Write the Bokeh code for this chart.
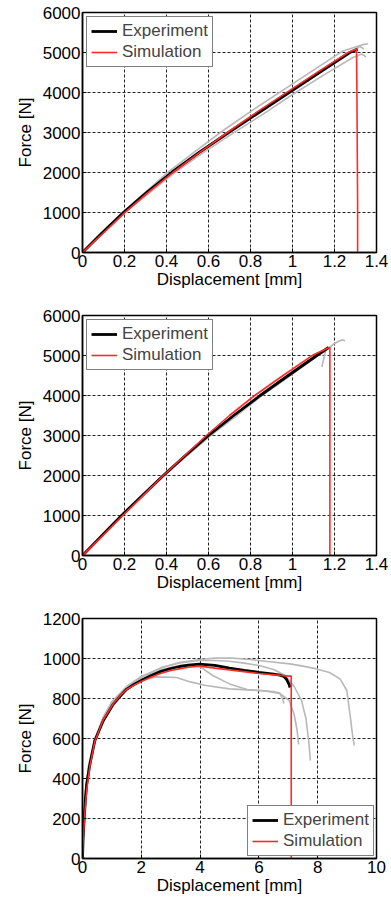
from bokeh.plotting import figure
from bokeh.layouts import column
from bokeh.models import Range1d, FixedTicker, Legend, LegendItem
from bokeh.embed import file_html
from bokeh.resources import INLINE

# ---- Panel 1 data ----
p1_exp_x = [0, 0.095, 0.195, 0.305, 0.424, 0.555, 0.696, 0.84, 0.984, 1.128, 1.273, 1.31]
p1_exp_y = [0, 500, 1000, 1500, 2000, 2500, 3000, 3500, 4000, 4500, 5000, 5080]
p1_sim_x = [0, 0.1, 0.2, 0.31, 0.43, 0.56, 0.69, 0.83, 0.975, 1.12, 1.265, 1.305,
            1.307, 1.31, 1.31]
p1_sim_y = [0, 490, 990, 1490, 2000, 2510, 3000, 3510, 4010, 4510, 5000, 5090,
            3800, 1200, 0]
p1_gray = [
    ([0, 0.19, 0.41, 0.54, 0.67, 0.81, 0.955, 1.1, 1.24, 1.33, 1.36],
     [0, 1000, 2020, 2540, 3050, 3560, 4060, 4560, 5040, 5190, 5220]),
    ([0, 0.2, 0.435, 0.57, 0.71, 0.86, 1.0, 1.15, 1.29, 1.33, 1.35],
     [0, 990, 1980, 2480, 2960, 3460, 3950, 4440, 4880, 4960, 4890]),
    ([0, 0.195, 0.424, 0.555, 0.69, 0.835, 0.98, 1.125, 1.27, 1.32, 1.34],
     [0, 1000, 2000, 2510, 3010, 3520, 4030, 4530, 5000, 5150, 5090]),
]

# ---- Panel 2 data ----
p2_exp_x = [0, 0.093, 0.186, 0.285, 0.385, 0.49, 0.6, 0.72, 0.846, 0.98, 1.116, 1.172]
p2_exp_y = [0, 500, 1000, 1500, 2000, 2500, 3000, 3500, 4000, 4500, 5000, 5200]
p2_sim_x = [0, 0.095, 0.19, 0.287, 0.385, 0.487, 0.59, 0.70, 0.82, 0.955, 1.1, 1.175,
            1.178, 1.178]
p2_sim_y = [0, 490, 990, 1490, 2000, 2500, 3000, 3500, 4000, 4500, 5020, 5200,
            5200, 0]
p2_gray = [
    ([0, 0.19, 0.39, 0.605, 0.73, 0.85, 0.985, 1.12, 1.17, 1.2, 1.225, 1.24, 1.25],
     [0, 1000, 2000, 2980, 3480, 3980, 4480, 4990, 5180, 5300, 5370, 5390, 5370]),
    ([0, 0.185, 0.385, 0.6, 0.72, 0.845, 0.975, 1.11, 1.16, 1.15, 1.14],
     [0, 1010, 2010, 3010, 3510, 4010, 4510, 5010, 5180, 4950, 4720]),
]

# ---- Panel 3 data ----
p3_exp_x = [0, 0.02, 0.05, 0.1, 0.14, 0.25, 0.42, 0.71, 1.05, 1.3, 1.5, 1.75, 2.0, 2.3,
            2.65, 3.0, 3.3, 3.6, 3.97, 4.5, 5.0, 5.5, 6.0, 6.5, 6.71, 6.85, 6.94, 7.03, 7.06]
p3_exp_y = [0, 100, 180, 300, 370, 470, 590, 690, 772, 815, 846, 870, 890, 912,
            935, 950, 960, 967, 972, 966, 952, 941, 931, 922, 917, 910, 896, 870, 855]
p3_sim_x = [0, 0.02, 0.05, 0.1, 0.15, 0.25, 0.42, 0.71, 1.05, 1.3, 1.5, 1.75, 2.0, 2.3,
            2.65, 3.0, 3.29, 3.6, 3.97, 4.5, 5.0, 6.0, 7.03, 7.1, 7.1]
p3_sim_y = [0, 80, 160, 270, 350, 460, 585, 695, 775, 818, 845, 867, 885, 905,
            925, 940, 948, 956, 962, 952, 943, 925, 912, 912, 0]
p3_gray = [
    ([0, 0.02, 0.05, 0.1, 0.2, 0.4, 0.7, 1.0, 1.5, 2.0, 2.7, 3.3, 4.0, 4.5, 5.1, 5.7, 6.3,
      7.05, 7.5, 7.96, 8.4, 8.76, 8.99, 9.1, 9.2, 9.25],
     [0, 110, 200, 320, 450, 580, 700, 775, 855, 905, 955, 980, 995, 1002, 1002, 995, 985,
      973, 962, 948, 930, 898, 840, 720, 600, 565]),
    ([0, 0.02, 0.05, 0.1, 0.2, 0.4, 0.7, 1.0, 1.5, 2.0, 2.7, 3.3, 3.97, 4.5, 5.0, 5.5, 6.0,
      6.5, 6.9, 7.2, 7.45, 7.6, 7.7, 7.75],
     [0, 120, 210, 330, 460, 590, 705, 785, 860, 910, 955, 978, 990, 990, 986, 977, 965,
      945, 915, 860, 790, 700, 580, 490]),
    ([0, 0.02, 0.05, 0.1, 0.2, 0.4, 0.7, 1.0, 1.5, 2.0, 2.7, 3.3, 3.97, 4.43, 5.0, 5.6,
      6.2, 6.71, 7.03, 7.2, 7.3, 7.35],
     [0, 90, 170, 290, 430, 570, 690, 770, 845, 895, 945, 965, 962, 915, 873, 845,
      838, 825, 790, 720, 640, 570]),
    ([0, 0.02, 0.05, 0.1, 0.2, 0.4, 0.7, 1.0, 1.5, 2.0, 2.5, 3.2, 3.67, 4.2, 5.0, 6.0,
      6.5, 6.71, 6.8, 6.85],
     [0, 100, 190, 310, 440, 580, 690, 770, 845, 890, 908, 905, 883, 865, 848, 840,
      835, 827, 800, 775]),
]

FONT = "Liberation Sans"
GRAY = "#b8b8b8"
RED = "#ff2a2a"


def make_panel(xmax, xticks, ymax, yticks, gray, ex, ey, sx, sy, legend_loc, top, bottom,
               height, leg_margin):
    p = figure(width=391, height=height, output_backend="svg", toolbar_location=None,
               x_range=Range1d(0, xmax), y_range=Range1d(0, ymax),
               min_border_left=82, min_border_right=15,
               min_border_top=top, min_border_bottom=bottom)
    p.background_fill_color = "white"
    p.border_fill_color = "white"
    p.outline_line_color = "black"
    p.outline_line_width = 1.5
    for ax in (p.xaxis[0], p.yaxis[0]):
        ax.major_label_text_font = FONT
        ax.major_label_text_font_size = "17px"
        ax.major_label_text_color = "black"
        ax.axis_label_text_font = FONT
        ax.axis_label_text_font_size = "17px"
        ax.axis_label_text_font_style = "normal"
        ax.axis_label_text_color = "black"
        ax.major_tick_in = 4
        ax.major_tick_out = 0
        ax.minor_tick_line_color = None
        ax.axis_line_color = "black"
        ax.axis_line_width = 1.5
        ax.major_label_standoff = 2
    p.xaxis.axis_label = "Displacement [mm]"
    p.yaxis.axis_label = "Force [N]"
    p.xaxis.axis_label_standoff = 0
    p.yaxis.axis_label_standoff = 5
    p.xaxis.ticker = FixedTicker(ticks=xticks)
    p.yaxis.ticker = FixedTicker(ticks=yticks)
    p.xgrid.ticker = FixedTicker(ticks=xticks)
    p.ygrid.ticker = FixedTicker(ticks=yticks)
    for g in (p.xgrid[0], p.ygrid[0]):
        g.grid_line_color = "#222222"
        g.grid_line_dash = "3 2"
        g.grid_line_width = 1
    for gx, gy in gray:
        p.line(gx, gy, line_color=GRAY, line_width=1.6)
    r1 = p.line(ex, ey, line_color="black", line_width=2.8)
    r2 = p.line(sx, sy, line_color=RED, line_width=1.6)
    leg = Legend(items=[LegendItem(label="Experiment", renderers=[r1]),
                        LegendItem(label="Simulation", renderers=[r2])],
                 location=legend_loc)
    leg.label_text_font = FONT
    leg.label_text_font_size = "17px"
    leg.border_line_color = "black"
    leg.border_line_width = 1.5
    leg.margin = leg_margin
    leg.padding = 4
    leg.spacing = 1
    leg.glyph_width = 26
    leg.label_standoff = 5
    leg.label_height = 20
    leg.glyph_height = 20
    leg.background_fill_alpha = 1
    p.add_layout(leg)
    return p


p1 = make_panel(1.4, [0, 0.2, 0.4, 0.6, 0.8, 1.0, 1.2, 1.4], 6000,
                [0, 1000, 2000, 3000, 4000, 5000, 6000],
                p1_gray, p1_exp_x, p1_exp_y, p1_sim_x, p1_sim_y, "top_left", 12, 48, 300, 4)
p2 = make_panel(1.4, [0, 0.2, 0.4, 0.6, 0.8, 1.0, 1.2, 1.4], 6000,
                [0, 1000, 2000, 3000, 4000, 5000, 6000],
                p2_gray, p2_exp_x, p2_exp_y, p2_sim_x, p2_sim_y, "top_left", 15, 45, 300, 4)
p3 = make_panel(10, [0, 2, 4, 6, 8, 10], 1200,
                [0, 200, 400, 600, 800, 1000, 1200],
                p3_gray, p3_exp_x, p3_exp_y, p3_sim_x, p3_sim_y, "bottom_right", 18, 44, 302, 2)

layout = column(p1, p2, p3, spacing=0)
open("out.html", "w").write(file_html(layout, INLINE))
